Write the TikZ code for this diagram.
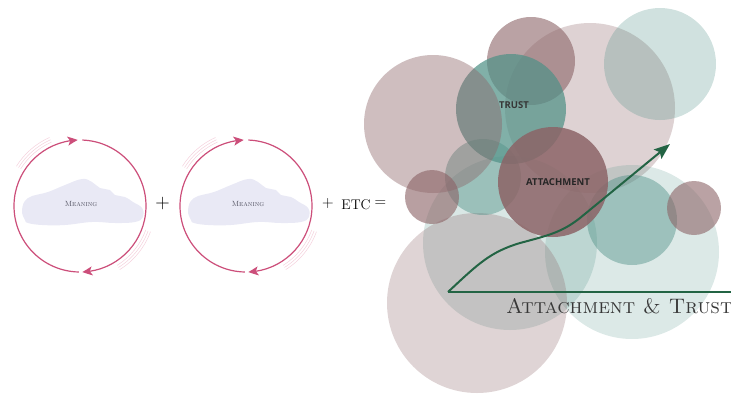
\documentclass[tikz,border=0pt]{standalone}
\usepackage{fontspec}
\newfontfamily\labfont{Open Sans}
\usetikzlibrary{arrows.meta,bending}
\definecolor{arcpink}{RGB}{204,78,122}
\definecolor{faintpink}{RGB}{244,208,220}
\definecolor{cloudfill}{RGB}{233,233,245}
\definecolor{meaninggray}{RGB}{80,80,95}
\definecolor{mauve}{RGB}{140,100,103}
\definecolor{tealc}{RGB}{80,145,135}
\definecolor{arrowgreen}{RGB}{35,100,68}
\definecolor{txtgray}{RGB}{55,55,55}
\begin{document}
\begin{tikzpicture}[x=1pt,y=1pt,
  bubble/.style={circle,inner sep=0pt,draw=none},
  loopline/.style={draw=arcpink,line width=1.2pt},
  looparrow/.style={-{Stealth[length=10pt,width=9pt,inset=2.5pt,bend]}},
  faint/.style={draw=faintpink,line width=0.5pt},
  cloudshape/.style={fill=cloudfill},
  meaning/.style={font=\fontsize{7.5}{8}\selectfont\scshape,text=meaninggray},
  bigsym/.style={font=\fontsize{20}{22}\selectfont,text=black},
  midsym/.style={font=\fontsize{16}{18}\selectfont,text=black},
  bublabel/.style={font=\labfont\bfseries\fontsize{9.5}{11}\selectfont,text=txtgray},
  greenline/.style={draw=arrowgreen,line width=2pt},
  axislabel/.style={font=\fontsize{21}{24}\selectfont\scshape,text=txtgray,inner sep=0pt}
]
\useasboundingbox (0,0) rectangle (731,-394);

% ---- loops ----
\coordinate (c1) at (80,-206);
\coordinate (c2) at (246,-206);
\foreach \c in {c1,c2}{
  \fill[cloudshape, shift={(\c)}] plot[smooth cycle,tension=0.7] coordinates {
    (-55,-14) (-58,-4) (-52,8) (-32,14) (-15,21) (2,27) (12,24) (20,18) (30,16)
    (35,11) (45,9) (53,4) (62,-2) (63,-11) (55,-16) (35,-17) (12,-16) (-15,-19)
    (-38,-19) (-52,-17)};
  \draw[loopline,looparrow] ([shift={(269:66)}]\c) arc[start angle=269,end angle=92,radius=66];
  \draw[loopline,looparrow] ([shift={(88:66)}]\c) arc[start angle=88,end angle=-88,radius=66];
  \foreach \r in {70,72.5,75}{
    \draw[faint] ([shift={(114:\r)}]\c) arc[start angle=114,end angle=148,radius=\r];
    \draw[faint] ([shift={(-58:\r)}]\c) arc[start angle=-58,end angle=-20,radius=\r];
  }
}
\node[meaning] (m1) at (81,-204) {Meaning};
\node[meaning] (m2) at (248,-204) {Meaning};
\node[bigsym] (plus1) at (162.5,-204) {+};
\node[midsym] (plus2) at (328,-204) {+};
\node[font=\fontsize{14}{16}\selectfont] (etc) at (356,-205) {ETC};
\node[midsym] (eq) at (380.5,-204) {=};

% ---- bubbles ----
\node[bubble,fill=mauve,fill opacity=0.29,minimum size=170pt] (bigC) at (590,-108) {};
\node[bubble,fill=tealc,fill opacity=0.27,minimum size=112pt] (topR) at (660,-64) {};
\node[bubble,fill=mauve,fill opacity=0.6,minimum size=88pt] (topB) at (531,-61) {};
\node[bubble,fill=tealc,fill opacity=0.22,minimum size=174pt] (midT) at (510,-243) {};
\node[bubble,fill=tealc,fill opacity=0.2,minimum size=174pt] (rightT) at (632,-252) {};
\node[bubble,fill=mauve,fill opacity=0.28,minimum size=180pt] (botP) at (477,-303) {};
\node[bubble,fill=tealc,fill opacity=0.45,minimum size=76pt] (smallT) at (483,-177) {};
\node[bubble,fill=tealc,fill opacity=0.45,minimum size=90pt] (medT) at (632,-220) {};
\node[bubble,fill=mauve,fill opacity=0.62,minimum size=54pt] (smallL) at (432,-197) {};
\node[bubble,fill=mauve,fill opacity=0.6,minimum size=54pt] (smallR) at (694,-208) {};
\node[bubble,fill=tealc,fill opacity=0.72,minimum size=110pt] (trust) at (511,-109) {};
\node[bubble,fill=mauve,fill opacity=0.42,minimum size=138pt] (leftB) at (433,-124) {};
\node[bubble,fill=mauve,fill opacity=0.85,minimum size=110pt] (attach) at (553,-182) {};
\node[bublabel] (trustlab) at (514,-105.5) {TRUST};
\node[bublabel,text=black!85] (attachlab) at (558,-182) {ATTACHMENT};

% ---- graph ----
\coordinate (origin) at (448,-292);
\coordinate (xend) at (731,-292);
\coordinate (tip) at (670,-144);
\draw[greenline] (origin) -- (xend);
\draw[greenline,-{Stealth[length=16pt,width=12pt,inset=3pt]}]
  (origin) .. controls (478,-264) and (490,-252) .. (520,-243)
  .. controls (550,-235) and (562,-232) .. (580,-218) -- (tip);
\node[axislabel,anchor=base west] (axlab) at (506,-313) {Attachment \& Trust};
\end{tikzpicture}
\end{document}
